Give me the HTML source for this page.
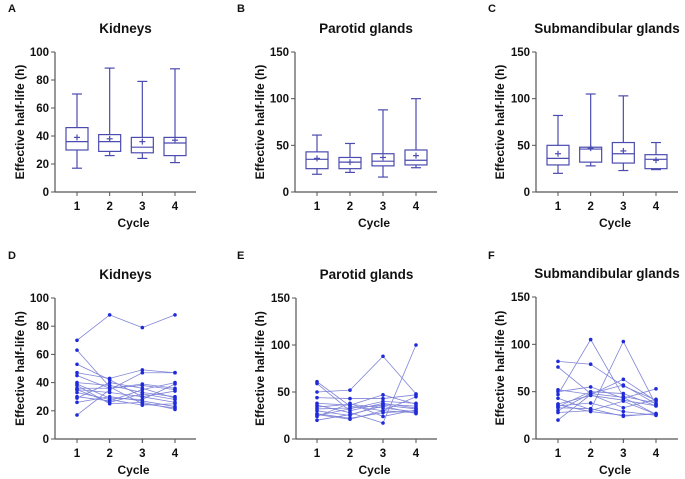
<!DOCTYPE html>
<html><head><meta charset="utf-8"><style>
body{margin:0;background:#fff}
svg{display:block;font-family:"Liberation Sans",Arial,sans-serif;font-weight:bold}
</style></head><body>
<svg id="fig" width="685" height="479" viewBox="0 0 685 479"></svg>
<script>
const cycles=["1","2","3","4"];
const kidneyBox=[[17,30,36,46,70,39],[26,29,36,41,88.5,38],[24,28,32,39,79,36],[21,26,35,39,88,37]];
const parotidBox=[[19,25,35,43,61,36],[21,25,32,37,52,32],[16,28,33,41,88,37],[26,29,34,45,100,39]];
const subBox=[[20,29,36,50,82,41],[28,32,46,48,105,47],[23,31,41,53,103,44],[24,25,35,40,53,34]];
const kidneySubj=[[70,88,79,88],[63,37,25,22],[53,42,30,26],[47,43,49,47],[45,36,38,35],[40,38,33,30],[39,29,28,39],[36,36,39,36],[35,26,32,28],[33,28,24,25],[30,27,35,40],[29,40,36,29],[26,30,27,23],[17,35,47,47],[38,25,26,21],[35,33,30,34]];
const parotidSubj=[[61,35,30,28],[59,30,38,33],[50,52,88,48],[44,43,43,47],[38,36,47,37],[36,28,17,100],[34,37,33,29],[30,25,37,35],[27,22,28,30],[25,32,40,38],[24,38,24,31],[20,26,35,27],[26,21,30,45],[32,33,36,32]];
const subSubj=[[82,79,56,41],[76,48,44,26],[52,47,63,40],[50,55,43,53],[47,105,45,38],[43,31,103,36],[37,46,41,35],[35,38,29,25],[33,32,24,27],[30,48,57,37],[28,30,40,26],[20,47,33,42],[36,29,25,26],[34,50,48,35]];
const kidneyTicks=[0,20,40,60,80,100];
const glandTicks=[0,50,100,150];

const NS="http://www.w3.org/2000/svg";
const svg=document.getElementById('fig');
function mk(tag,attrs,parent,text){const e=document.createElementNS(NS,tag);for(const k in attrs)e.setAttribute(k,attrs[k]);if(text!==undefined)e.textContent=text;(parent||svg).appendChild(e);return e;}

function panel(o){
  const g=mk('g',{});
  
  
  const ymax=o.ticks[o.ticks.length-1];
  const Y=v=>o.y0-(v/ymax)*(o.y0-o.yt);
  const X=i=>o.xs[0]+i*(o.xs[1]-o.xs[0])/3;
  const ax='#555';
  const lt=mk('text',{x:o.lx,y:o.y0-180,'font-size':11,fill:'#111'},g,o.letter);
  
  
  const tt=mk('text',{x:(o.ax+o.xe)/2,y:o.yt-19,'font-size':13.5,'text-anchor':'middle',fill:'#111'},g,o.title);
  
  
  const yl=mk('line',{x1:o.ax,y1:o.yt,x2:o.ax,y2:o.y0,stroke:ax,'stroke-width':1.2},g);
  
  
  const xl=mk('line',{x1:o.ax,y1:o.y0,x2:o.xe,y2:o.y0,stroke:ax,'stroke-width':1.2},g);
  
  
  o.ticks.forEach(t=>{
    mk('line',{x1:o.ax-4,y1:Y(t),x2:o.ax,y2:Y(t),stroke:ax},g);
    const tl=mk('text',{x:o.ax-6,y:Y(t)+4,'font-size':11.5,'text-anchor':'end',fill:'#111'},g,t);
    
    
  });
  cycles.forEach((c,i)=>{
    mk('line',{x1:X(i),y1:o.y0,x2:X(i),y2:o.y0+4,stroke:ax},g);
    const tl=mk('text',{x:X(i),y:o.y0+18,'font-size':11.5,'text-anchor':'middle',fill:'#111'},g,c);
    
    
  });
  const xt=mk('text',{x:(o.ax+o.xe)/2+8,y:o.y0+35,'font-size':12,'text-anchor':'middle',fill:'#111'},g,'Cycle');
  
  
  const yc=(o.y0+o.yt)/2;
  const yt=mk('text',{x:o.ylx,y:yc,'font-size':12,'text-anchor':'middle',fill:'#111',transform:`rotate(-90 ${o.ylx} ${yc})`},g,'Effective half-life (h)');
  
  
  if(o.box){
    const col='#4b4bb0';
    o.box.forEach((b,i)=>{
      const x=X(i),w=11,c=5;
      const bg=mk('g',{stroke:col,'stroke-width':1.2,fill:'none'},g);
      
      
      mk('line',{x1:x,y1:Y(b[0]),x2:x,y2:Y(b[1])},bg);
      mk('line',{x1:x,y1:Y(b[3]),x2:x,y2:Y(b[4])},bg);
      mk('line',{x1:x-c,y1:Y(b[0]),x2:x+c,y2:Y(b[0])},bg);
      mk('line',{x1:x-c,y1:Y(b[4]),x2:x+c,y2:Y(b[4])},bg);
      mk('rect',{x:x-w,y:Y(b[3]),width:2*w,height:Y(b[1])-Y(b[3])},bg);
      mk('line',{x1:x-w,y1:Y(b[2]),x2:x+w,y2:Y(b[2])},bg);
      mk('line',{x1:x-3,y1:Y(b[5]),x2:x+3,y2:Y(b[5])},bg);
      mk('line',{x1:x,y1:Y(b[5])-3,x2:x,y2:Y(b[5])+3},bg);
    });
  } else {
    o.subj.forEach((s,k)=>{
      const sg=mk('g',{},g);
      
      
      mk('polyline',{points:s.map((v,i)=>X(i)+','+Y(v)).join(' '),fill:'none',stroke:'#7f84d6','stroke-width':0.8},sg);
      s.forEach((v,i)=>{
        const p=mk('circle',{cx:X(i),cy:Y(v),r:1.8,fill:'#1f2ad8'},sg);
        
        
      });
    });
  }
}
panel({name:'panel-a-kidneys-box',letter:'A',lx:8,title:'Kidneys',ax:55,xe:196,xs:[77,175],y0:192,yt:52,ticks:kidneyTicks,ylx:24,box:kidneyBox});
panel({name:'panel-b-parotid-box',letter:'B',lx:237,title:'Parotid glands',ax:295,xe:437,xs:[317,416],y0:192,yt:52,ticks:glandTicks,ylx:264,box:parotidBox});
panel({name:'panel-c-submandibular-box',letter:'C',lx:488,title:'Submandibular glands',ax:536,xe:678,xs:[558,656],y0:192,yt:52,ticks:glandTicks,ylx:504,box:subBox});
panel({name:'panel-d-kidneys-lines',letter:'D',lx:8,title:'Kidneys',ax:55,xe:196,xs:[77,175],y0:439,yt:298,ticks:kidneyTicks,ylx:24,subj:kidneySubj});
panel({name:'panel-e-parotid-lines',letter:'E',lx:237,title:'Parotid glands',ax:296,xe:437,xs:[317,416],y0:439,yt:298,ticks:glandTicks,ylx:264,subj:parotidSubj});
panel({name:'panel-f-submandibular-lines',letter:'F',lx:488,title:'Submandibular glands',ax:536,xe:678,xs:[558,656],y0:439,yt:297,ticks:glandTicks,ylx:504,subj:subSubj});
</script>
</body></html>
